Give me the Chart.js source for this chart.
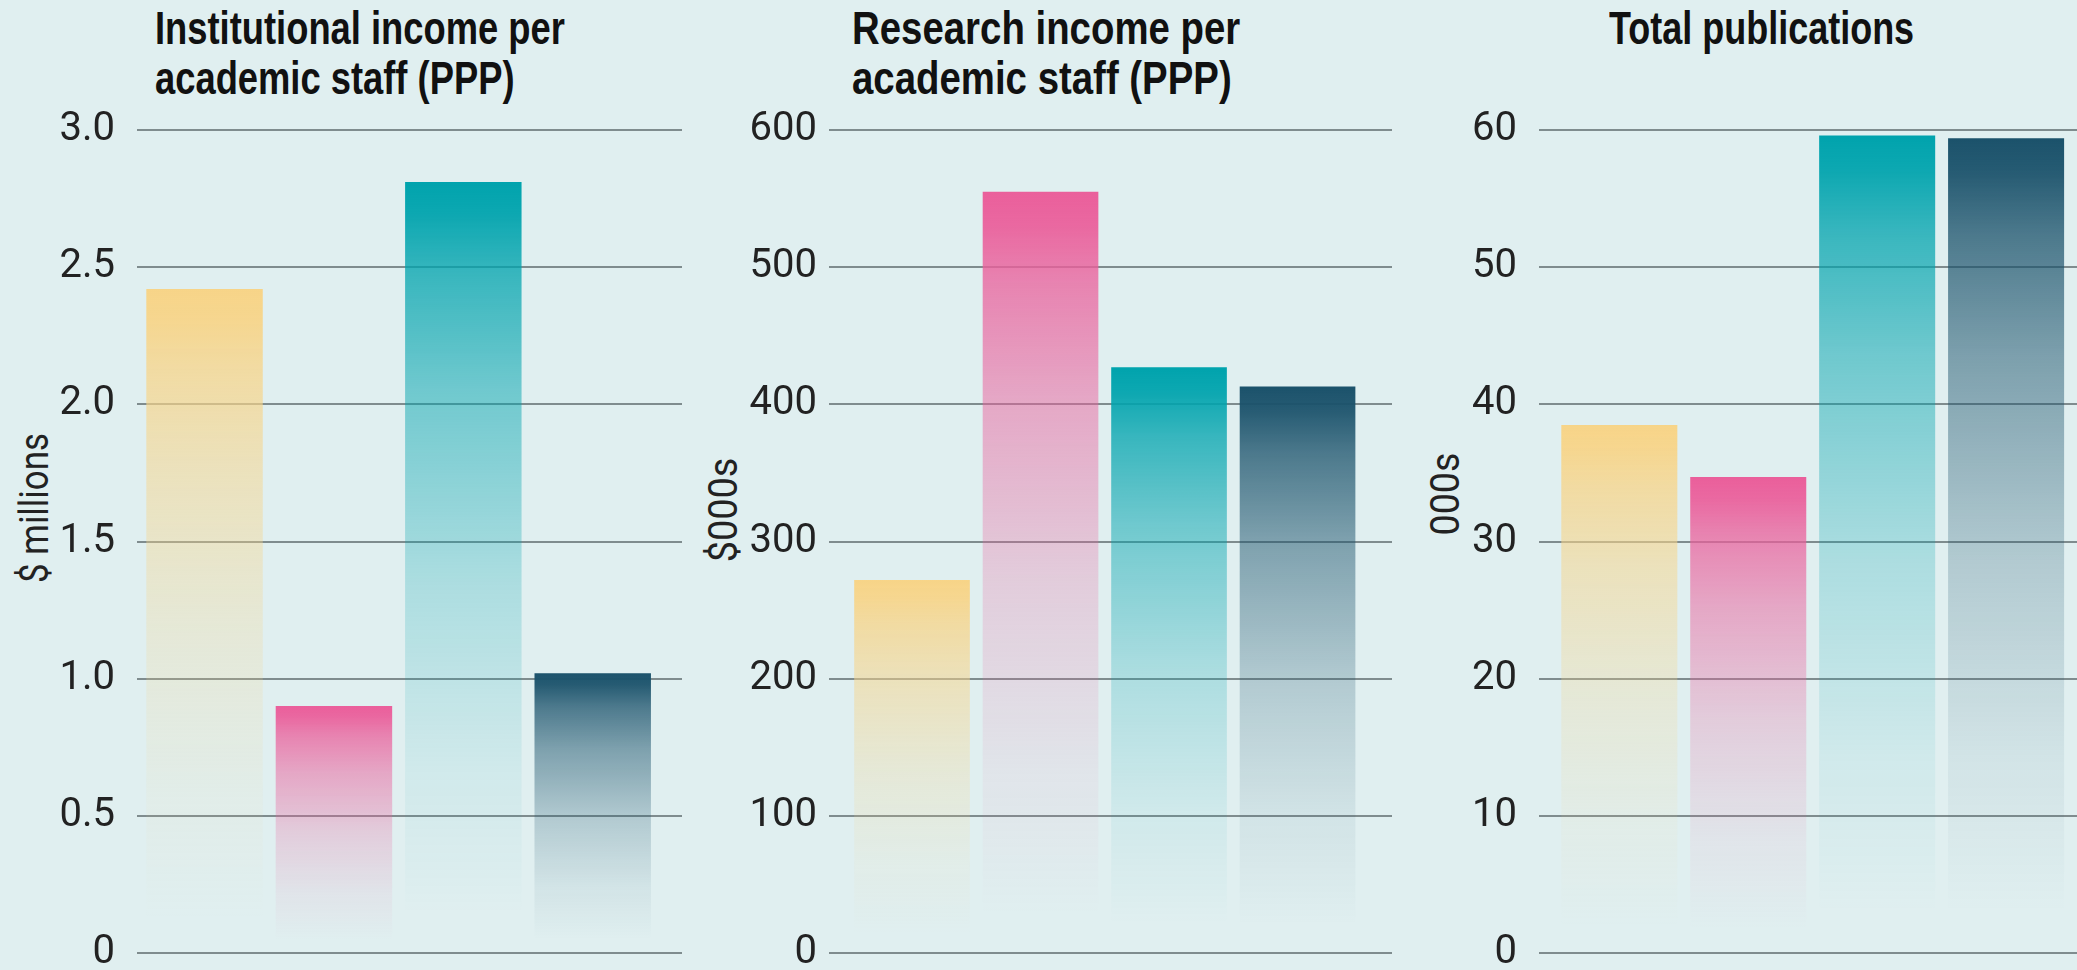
<!DOCTYPE html>
<html>
<head>
<meta charset="utf-8">
<script src="https://cdn.jsdelivr.net/npm/chart.js@4.4.1/dist/chart.umd.min.js"></script>
<style>
  html, body { margin: 0; padding: 0; width: 2077px; height: 970px; overflow: hidden; background: #e0eff0; }
  .panel { position: absolute; top: 0; height: 1000px; }
  .title { position: absolute; top: 3px; font-family: "Liberation Sans", Arial, sans-serif; font-weight: bold;
           font-size: 46px; line-height: 50px; color: #111; white-space: nowrap; transform-origin: 0 0; }
  .ytitle { position: absolute; font-family: Roboto, sans-serif; font-size: 40px; line-height: 40px; color: #222;
            white-space: nowrap; }
</style>
</head>
<body>
<div class="title" id="t1" style="left:155px">Institutional income per<br>academic staff (PPP)</div>
<div class="title" id="t2" style="left:852px">Research income per<br>academic staff (PPP)</div>
<div class="title" id="t3" style="left:1609px">Total publications</div>

<div class="ytitle" id="y1" style="left:35px;top:508px">$ millions</div>
<div class="ytitle" id="y2" style="left:724px;top:510px">$000s</div>
<div class="ytitle" id="y3" style="left:1446px;top:494px">000s</div>

<canvas id="c1" class="panel" style="left:0px" width="682" height="1000"></canvas>
<canvas id="c2" class="panel" style="left:690px" width="702" height="1000"></canvas>
<canvas id="c3" class="panel" style="left:1400px" width="677" height="1000"></canvas>

<script>
// four unnamed groups, same order and colour in every panel
const groups = ["A", "B", "C", "D"]
const institutionalIncome = [2.42, 0.90, 2.81, 1.02]   // $ millions
const researchIncome = [272, 555, 427, 413]            // $000s
const totalPublications = [38.5, 34.7, 59.6, 59.4]     // 000s

const ticksIncome = [0, 0.5, 1.0, 1.5, 2.0, 2.5, 3.0]
const ticksResearch = [0, 100, 200, 300, 400, 500, 600]
const ticksPubs = [0, 10, 20, 30, 40, 50, 60]

const COLORS = [[247, 212, 136], [234, 95, 155], [0, 163, 173], [27, 82, 107]]
// alpha along the bar, top -> bottom
const FADE = [[0, 1], [0.04, 0.95], [0.12, 0.75], [0.27, 0.5], [0.52, 0.23], [0.76, 0.07], [0.95, 0]]

// squeeze the html titles to the condensed widths of the original
function squeeze(id, target, pre) {
  const el = document.getElementById(id)
  el.style.transform = `${pre || ""} scaleX(${target / el.offsetWidth})`
}
squeeze("t1", 410)
squeeze("t2", 388)
squeeze("t3", 305)
squeeze("y1", 150, "translate(-50%,-50%) rotate(-90deg)")
squeeze("y2", 105, "translate(-50%,-50%) rotate(-90deg)")
squeeze("y3", 83, "translate(-50%,-50%) rotate(-90deg)")

function fade(ctx) {
  const chart = ctx.chart
  const [r, g, b] = COLORS[ctx.dataIndex % COLORS.length]
  if (!chart.chartArea || !ctx.raw) return `rgb(${r},${g},${b})`
  const y = chart.scales.y
  const top = y.getPixelForValue(ctx.raw.y)
  const bottom = y.getPixelForValue(0)
  const grad = chart.ctx.createLinearGradient(0, top, 0, bottom)
  FADE.forEach(([o, a]) => grad.addColorStop(o, `rgba(${r},${g},${b},${a})`))
  return grad
}

function panel(id, values, ticks, fmt, xMin, xMax, axisWidth, tickPad) {
  return new Chart(document.getElementById(id), {
    type: "bar",
    data: {
      datasets: [{
        data: values.map((v, i) => ({ x: i, y: v })),
        backgroundColor: fade,
        borderWidth: 0,
        barPercentage: 0.9,
        categoryPercentage: 1
      }]
    },
    options: {
      responsive: false,
      animation: false,
      layout: { padding: { top: 130, bottom: 47, left: 0, right: 0 } },
      plugins: { legend: { display: false }, tooltip: { enabled: false } },
      scales: {
        x: {
          type: "linear", bounds: "data", offset: false, min: xMin, max: xMax, display: false,
          afterBuildTicks: s => { s.ticks = groups.map((_, i) => ({ value: i })) }
        },
        y: {
          min: ticks[0], max: ticks[ticks.length - 1],
          afterBuildTicks: s => { s.ticks = ticks.map(v => ({ value: v })) },
          afterFit: s => { s.width = axisWidth },
          ticks: {
            padding: tickPad, color: "#222",
            font: { family: "Roboto, sans-serif", size: 40 },
            callback: fmt
          },
          grid: { color: "#7f8c8e", lineWidth: 2, drawTicks: false },
          border: { display: false }
        }
      }
    }
  })
}

panel("c1", institutionalIncome, ticksIncome, v => v === 0 ? "0" : v.toFixed(1), -0.522, 3.69, 137, 22)
panel("c2", researchIncome, ticksResearch, v => String(v), -0.646, 3.735, 139, 12)
panel("c3", totalPublications, ticksPubs, v => String(v), -0.623, 3.55, 139, 22)
</script>
</body>
</html>
